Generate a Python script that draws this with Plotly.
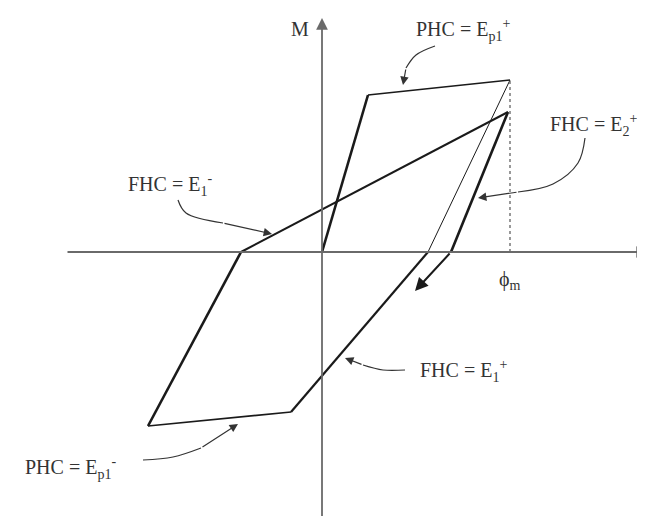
"""Moment-curvature hysteresis schematic (PHC / FHC branches)."""

import plotly.graph_objects as go

# Hysteresis path, curvature phi vs moment M (origin at axes crossing)
PHI = [0, 46, 188, 106, -31, -174, -81, 186, 129]
M = [0, 157, 172, 0, -160, -174, 0, 140, 0]
SEG_WIDTH = [2.6, 1.6, 1.0, 2.2, 1.6, 2.6, 2.0, 2.6]
# unloading arrow after the last point
UNLOAD_TIP = (93, -39)

PHI_M = 188
PHI_M_TOP = 172

# Callout leaders: (label, text anchor, leader points ending at the arrow tip)
CALLOUTS = [
    ("PHC = E<sub>p1</sub><sup>+</sup>", (92, 222), "left",
     [113, 94, 84, 81], [206, 197, 184, 167]),
    ("FHC = E<sub>2</sub><sup>+</sup>", (226, 127), "left",
     [263, 256, 231, 196, 156], [114, 89, 68, 60, 54]),
    ("FHC = E<sub>1</sub><sup>-</sup>", (-196, 67), "left",
     [-144, -136, -99, -50], [52, 39, 29, 18]),
    ("FHC = E<sub>1</sub><sup>+</sup>", (96, -119), "left",
     [83, 61, 41, 23], [-118, -118, -113, -106]),
    ("PHC = E<sub>p1</sub><sup>-</sup>", (-299, -216), "left",
     [-179, -149, -121, -84], [-208, -205, -196, -172]),
]

X_AXIS = (-256, 326)
Y_AXIS = (-268, 234)

FONT = dict(family="Liberation Serif, Times New Roman, serif", size=20, color="#333")
INK = "#1a1a1a"

fig = go.Figure()

# hysteresis branches
for i, w in enumerate(SEG_WIDTH):
    fig.add_trace(go.Scatter(
        x=PHI[i:i + 2], y=M[i:i + 2], mode="lines",
        line=dict(color=INK, width=w), hoverinfo="skip", showlegend=False,
    ))

# dotted line at phi_m
fig.add_trace(go.Scatter(
    x=[PHI_M, PHI_M], y=[0, PHI_M_TOP], mode="lines",
    line=dict(color="#555", width=1.2, dash="dot"),
    hoverinfo="skip", showlegend=False,
))

annotations = []


def arrow(x0, y0, x1, y1, width, size, color=INK):
    annotations.append(dict(
        x=x1, y=y1, ax=x0, ay=y0, xref="x", yref="y", axref="x", ayref="y",
        text="", showarrow=True, arrowhead=2, arrowsize=size,
        arrowwidth=width, arrowcolor=color,
    ))


# axes with arrowheads
arrow(X_AXIS[0], 0, X_AXIS[1], 0, 1.8, 1.3, "#6a6a6a")
arrow(0, Y_AXIS[0], 0, Y_AXIS[1], 1.8, 1.3, "#6a6a6a")

# unloading arrow
arrow(PHI[-1], M[-1], UNLOAD_TIP[0], UNLOAD_TIP[1], 2.0, 1.3)

# callouts
for label, (tx, ty), anchor, cx, cy in CALLOUTS:
    fig.add_trace(go.Scatter(
        x=cx[:-1], y=cy[:-1], mode="lines",
        line=dict(color="#333", width=1.2, shape="spline"),
        hoverinfo="skip", showlegend=False,
    ))
    arrow(cx[-2], cy[-2], cx[-1], cy[-1], 1.2, 1.4, "#333")
    annotations.append(dict(
        x=tx, y=ty, xref="x", yref="y", text=label, showarrow=False,
        xanchor=anchor, yanchor="middle", font=FONT,
    ))

# axis labels
annotations += [
    dict(x=-22, y=223, xref="x", yref="y", text="M", showarrow=False, font=FONT),
    dict(x=PHI_M, y=-28, xref="x", yref="y", text="ϕ<sub>m</sub>",
         showarrow=False, font=FONT),
    dict(x=320, y=-31, xref="x", yref="y", text="ϕ", showarrow=False,
         xanchor="left", font=FONT),
]

fig.update_layout(
    width=645,
    height=516,
    margin=dict(l=0, r=0, t=0, b=0),
    paper_bgcolor="white",
    plot_bgcolor="white",
    xaxis=dict(range=[-314, 331], visible=False, fixedrange=True),
    yaxis=dict(range=[-272, 244], visible=False, fixedrange=True),
    annotations=annotations,
    showlegend=False,
)

fig.write_html("out.html")
